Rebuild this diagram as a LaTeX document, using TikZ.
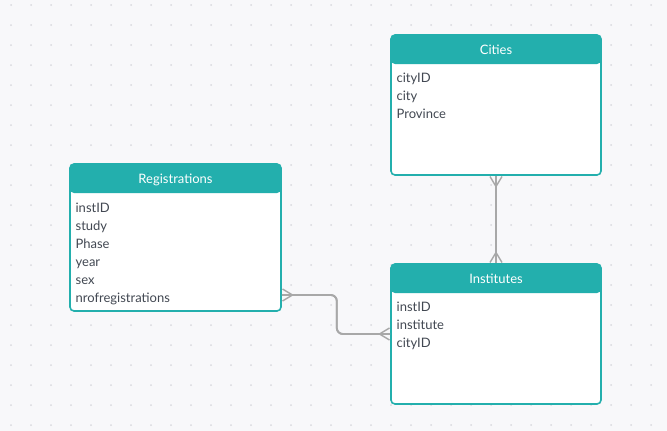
\documentclass[tikz,border=0pt]{standalone}
\usepackage{fontspec}
\setmainfont{Lato}
\usepackage{tikz}
\usetikzlibrary{arrows.meta}
\definecolor{tealhead}{HTML}{23AFAD}
\definecolor{fieldgray}{HTML}{424852}
\definecolor{linkgray}{HTML}{A8A8A8}
\definecolor{paper}{HTML}{F8F8FA}
\definecolor{dotgray}{HTML}{D9D9DE}

\begin{document}
\begin{tikzpicture}[x=1pt, y=-1pt, line width=0.3mm,
    tablebox/.style={draw=tealhead, fill=white, line width=1.6pt, rounded corners=4pt,
        minimum width=210pt, minimum height=140pt, inner sep=0pt,
        path picture={\fill[tealhead] (path picture bounding box.north west)
            rectangle ([yshift=-29pt]path picture bounding box.north east);}},
    headtext/.style={anchor=base, text=white, inner sep=0pt, font=\fontsize{13}{15}\selectfont},
    fieldtext/.style={anchor=base west, text=fieldgray, inner sep=0pt,
        font=\fontsize{13}{15}\selectfont},
    crow/.tip={Straight Barb[reversed, length=10pt, width=12pt, line width=1.4pt]},
    link/.style={draw=linkgray, line width=1.8pt,
        postaction={draw=linkgray, line width=1.8pt, crow-crow}}]

    % background with dot grid
    \fill[paper] (0,0) rectangle (667,431);
    \useasboundingbox (0,0) rectangle (667,431);
    \foreach \i in {0,...,32}
      \foreach \j in {0,...,21}
        \fill[dotgray] (11+20*\i,5+20*\j) circle (1pt);

    % tables
    \node[tablebox, minimum width=211pt, minimum height=147pt] (reg) at (175.5,237.5) {};
    \node[headtext] (regh) at ([yshift=-20.5pt]reg.north) {Registrations};
    \foreach \f [count=\k] in {instID,study,Phase,year,sex,nrofregistrations}
      \node[fieldtext] (reg-\k) at ([xshift=6pt,yshift=-49pt-18pt*(\k-1)]reg.north west) {\f};

    \node[tablebox] (cities) at (496,105) {};
    \node[headtext] (citiesh) at ([yshift=-20.5pt]cities.north) {Cities};
    \foreach \f [count=\k] in {cityID,city,Province}
      \node[fieldtext] (cities-\k) at ([xshift=6pt,yshift=-48.5pt-18pt*(\k-1)]cities.north west) {\f};

    \node[tablebox] (inst) at (496,334) {};
    \node[headtext] (insth) at ([yshift=-20.5pt]inst.north) {Institutes};
    \foreach \f [count=\k] in {instID,institute,cityID}
      \node[fieldtext] (inst-\k) at ([xshift=6pt,yshift=-48.5pt-18pt*(\k-1)]inst.north west) {\f};

    % relations
    \draw[link] (cities.south) -- (inst.north);
    \draw[link, rounded corners=6pt] ([yshift=-57.5pt]reg.east) -- ++(55,0) |- (inst.west);
\end{tikzpicture}
\end{document}
